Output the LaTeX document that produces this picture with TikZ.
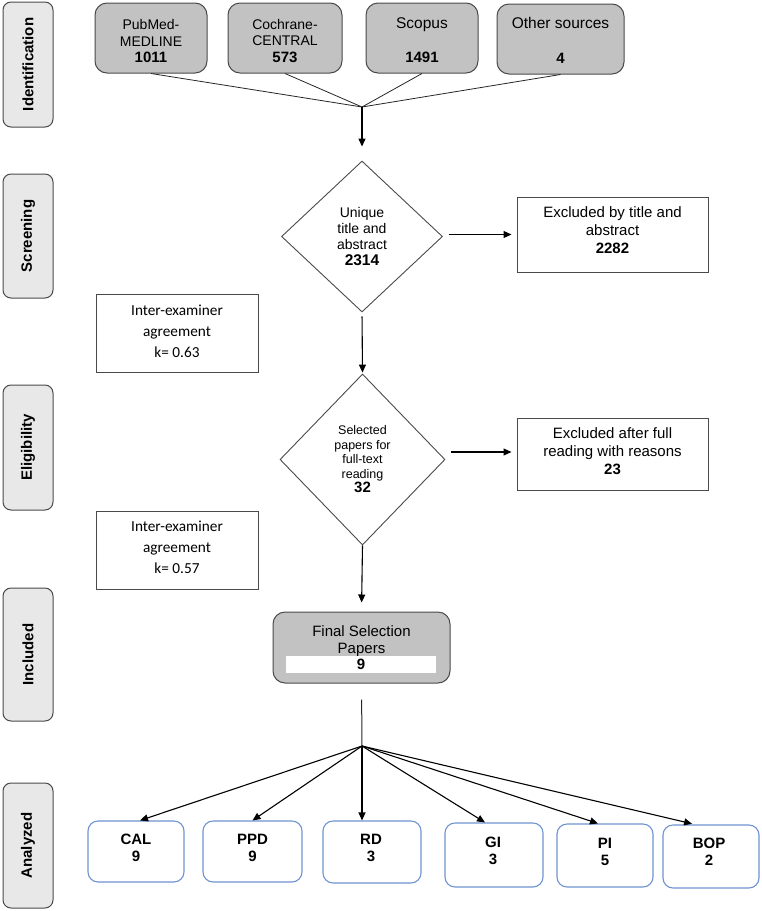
\documentclass[tikz,border=0pt]{standalone}
\usepackage{fontspec}
\setmainfont{Liberation Sans}
\newfontfamily\calfont{Carlito}
\usetikzlibrary{shapes.geometric,arrows.meta,calc}
\definecolor{sidefill}{HTML}{E8E8E8}
\definecolor{srcfill}{HTML}{C2C2C2}
\definecolor{edgegray}{HTML}{4A4A4A}
\definecolor{blueedge}{HTML}{6F93CF}
\begin{document}
\begin{tikzpicture}[x=1pt,y=-1pt,
 sidebox/.style={draw=edgegray, fill=sidefill, rounded corners=8pt, line width=1pt, rotate=90, minimum height=50pt, inner sep=0pt, font=\fontsize{15}{18}\selectfont\bfseries},
 srcbox/.style={draw=edgegray, fill=srcfill, rounded corners=12pt, line width=1pt, minimum height=70pt, inner sep=0pt},
 srctext/.style={inner sep=0pt, align=center, font=\fontsize{14}{16.3}\selectfont},
 dia/.style={draw=edgegray, diamond, line width=0.9pt, inner sep=0pt, align=center},
 exbox/.style={draw=edgegray, line width=1pt, minimum width=191pt, inner sep=0pt},
 extext/.style={inner sep=0pt, align=center, font=\fontsize{15}{18}\selectfont},
 iebox/.style={draw=edgegray, line width=1pt, minimum width=162pt, minimum height=78pt, inner sep=0pt},
 ietext/.style={inner sep=0pt, align=center, font=\calfont\fontsize{15.3}{21}\selectfont},
 resbox/.style={draw=blueedge, line width=1.1pt, rounded corners=10pt, inner sep=0pt},
 restext/.style={inner sep=0pt, align=center, font=\fontsize{15}{17}\selectfont\bfseries},
 arr/.style={draw=black, line width=1.1pt, -{Triangle[length=8pt,width=7pt]}},
 feed/.style={draw=black!85, line width=0.8pt}
]
\useasboundingbox (0,0) rectangle (762,911);

% side labels
\node[sidebox, minimum width=125pt] (idL) at (28,64.5) {Identification};
\node[sidebox, minimum width=124pt] (scrL) at (28,236) {Screening};
\node[sidebox, minimum width=125pt] (eliL) at (28,447.5) {Eligibility};
\node[sidebox, minimum width=133pt] (incL) at (28,654.5) {Included};
\node[sidebox, minimum width=125pt] (anaL) at (28,845.5) {Analyzed};

% sources
\node[srcbox, minimum width=112pt] (pub) at (151,38) {};
\node[srcbox, minimum width=114pt] (coc) at (285,38) {};
\node[srcbox, minimum width=112pt] (sco) at (422,38) {};
\node[srcbox, minimum width=127pt] (oth) at (560.5,39) {};
\node[srctext] (pubt) at (151,41) {PubMed-\\MEDLINE\\{\fontsize{15}{16}\selectfont\bfseries 1011}};
\node[srctext] (coct) at (285,41) {Cochrane-\\CENTRAL\\{\fontsize{15}{16}\selectfont\bfseries 573}};
\node[srctext, font=\fontsize{15.5}{17}\selectfont] (scot1) at (422,25) {Scopus};
\node[srctext, font=\fontsize{15}{16}\selectfont\bfseries] (scot2) at (422,57) {1491};
\node[srctext, font=\fontsize{15.5}{17}\selectfont] (otht1) at (560.5,23) {Other sources};
\node[srctext, font=\fontsize{15}{16}\selectfont\bfseries] (otht2) at (560.5,58) {4};

\coordinate (hub1) at (362,107);
\draw[feed] (pub.south) -- (hub1);
\draw[feed] (coc.south) -- (hub1);
\draw[feed] (sco.south) -- (hub1);
\draw[feed] (oth.south) -- (hub1);

% screening
\node[dia, minimum width=161pt, minimum height=151pt, font=\fontsize{14}{16}\selectfont] (d1) at (362,236.5)
  {Unique\\title and\\abstract\\{\fontsize{15.5}{16}\selectfont\bfseries 2314}};
\draw[arr, shorten >=14pt] (hub1) -- (d1.north);

\node[exbox, minimum height=75pt] (ex1) at (612.5,234.5) {};
\node[extext] (ex1t) at (612.5,230) {Excluded by title and\\abstract\\\textbf{2282}};
\draw[arr, shorten <=6pt, shorten >=5pt] (d1.east |- ex1.west) -- (ex1.west);

\node[iebox] (ie1) at (177,333) {};
\node[ietext] (ie1t) at (177,331) {Inter-examiner\\agreement\\k= 0.63};

% eligibility
\node[dia, minimum width=165pt, minimum height=171pt, font=\fontsize{12.5}{14.5}\selectfont] (d2) at (362.5,459.5)
  {Selected\\papers for\\full-text\\reading\\{\fontsize{15}{16.5}\selectfont\bfseries 32}};
\draw[arr, shorten <=4pt, shorten >=1pt] (d1.south) -- (d2.north);

\node[exbox, minimum height=72pt] (ex2) at (612.5,454) {};
\node[extext] (ex2t) at (612.5,451) {Excluded after full\\reading with reasons\\\textbf{23}};
\draw[arr, shorten <=6pt, shorten >=5pt] ([yshift=2pt]d2.east |- ex2.west) -- ([yshift=2pt]ex2.west);

\node[iebox] (ie2) at (177,550) {};
\node[ietext] (ie2t) at (177,547.5) {Inter-examiner\\agreement\\k= 0.57};

% included
\node[draw=edgegray, fill=srcfill, rounded corners=12pt, line width=1pt, minimum width=177pt, minimum height=71pt] (fin) at (361.5,647.5) {};
\node[inner sep=0pt, align=center, font=\fontsize{15}{16.5}\selectfont] (fintxt) at (361.5,641) {Final Selection\\Papers};
\node[fill=white, minimum width=150pt, minimum height=17pt, inner sep=0pt, font=\fontsize{15}{16}\selectfont\bfseries] (finbar) at (361,664.5) {9};
\draw[arr, shorten >=9pt] (d2.south) -- (fin.north);

% analyzed
\coordinate (hub2) at (362,746);
\draw[feed, line width=1pt, shorten <=16pt] (fin.south) -- (hub2);

\node[resbox, minimum width=96pt, minimum height=61pt] (cal) at (136,851.5) {};
\node[resbox, minimum width=99pt, minimum height=61pt] (ppd) at (252.5,851.5) {};
\node[resbox, minimum width=98pt, minimum height=62pt] (rd) at (372,852) {};
\node[resbox, minimum width=98pt, minimum height=64pt] (gi) at (494,855) {};
\node[resbox, minimum width=96pt, minimum height=63pt] (pi) at (605,855.5) {};
\node[resbox, minimum width=96pt, minimum height=63pt] (bop) at (711,856.5) {};

\node[restext] (caltxt) at (136,848) {CAL\\9};
\node[restext] (ppdtxt) at (252.5,848) {PPD\\9};
\node[restext] (rdtxt) at (371,848) {RD\\3};
\node[restext] (gitxt) at (493,851) {GI\\3};
\node[restext] (pitxt) at (605,852) {PI\\5};
\node[restext] (boptxt) at (709,852) {BOP\\2};

\draw[arr] (hub2) -- ([xshift=4pt]cal.north);
\draw[arr] (hub2) -- (ppd.north);
\draw[arr] (hub2) -- (hub2 |- rd.north);
\draw[arr] (hub2) -- ([xshift=-9pt]gi.north);
\draw[arr] (hub2) -- ([xshift=-7pt]pi.north);
\draw[arr, shorten >=3pt] (hub2) -- ([xshift=-16pt]bop.north);
\end{tikzpicture}
\end{document}
